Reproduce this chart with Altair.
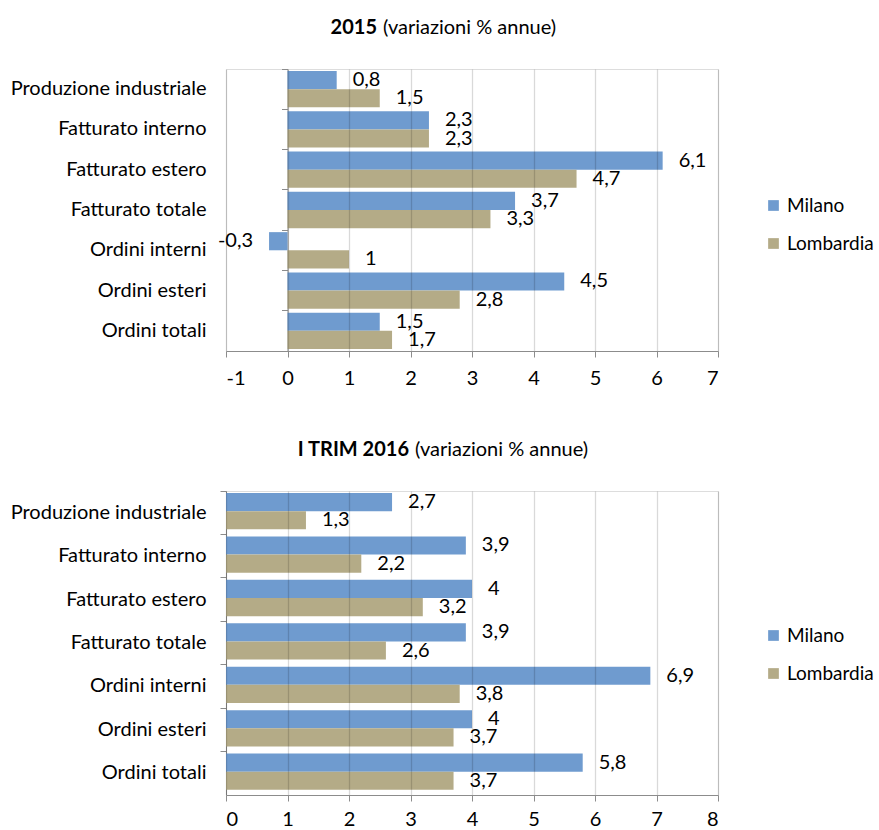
import altair as alt
import pandas as pd

categories = ["Produzione industriale", "Fatturato interno", "Fatturato estero",
              "Fatturato totale", "Ordini interni", "Ordini esteri", "Ordini totali"]
series = ["Milano", "Lombardia"]
milano_2015 = [0.8, 2.3, 6.1, 3.7, -0.3, 4.5, 1.5]
lombardia_2015 = [1.5, 2.3, 4.7, 3.3, 1, 2.8, 1.7]
milano_2016 = [2.7, 3.9, 4, 3.9, 6.9, 4, 5.8]
lombardia_2016 = [1.3, 2.2, 3.2, 2.6, 3.8, 3.7, 3.7]
colors = ["#6F9BCF", "#B4AB87"]

FONT = "Lato"
FS = 20
AXIS_GRAY = "#8c8c8c"


def fmt(v):
    return f"{v:g}".replace(".", ",")


def make_df(m, l):
    rows = []
    for c, a, b in zip(categories, m, l):
        rows.append(dict(cat=c, serie="Milano", val=a, lab=fmt(a)))
        rows.append(dict(cat=c, serie="Lombardia", val=b, lab=fmt(b)))
    return pd.DataFrame(rows)


def panel(df, xmin, xmax, w, h, pad, title_bold, title_norm, bold_x, norm_x, tick_offset,
          legend_y, xlabpad):
    xenc = alt.X("val:Q", scale=alt.Scale(domain=[xmin, xmax], nice=False, zero=False),
                 axis=alt.Axis(values=list(range(xmin, xmax + 1)), title=None,
                               labelExpr="'' + datum.value",
                               grid=True, gridColor="#000", gridOpacity=0.15, gridWidth=1.3,
                               domainColor=AXIS_GRAY, tickColor=AXIS_GRAY, tickSize=6,
                               labelFontSize=FS, labelPadding=xlabpad, labelColor="black",
                               labelFont=FONT, zindex=1))
    ysc = alt.Scale(domain=categories, paddingInner=0, paddingOuter=0)
    yoff = alt.YOffset("serie:N", sort=series,
                       scale=alt.Scale(domain=series, paddingOuter=pad, paddingInner=0))
    color = alt.Color("serie:N", sort=series, scale=alt.Scale(domain=series, range=colors),
                      legend=alt.Legend(title=None, orient="none", legendX=w + 46, legendY=legend_y,
                                        symbolType="square", symbolSize=115, symbolStrokeWidth=0,
                                        labelFontSize=19, labelFont=FONT, labelColor="black",
                                        rowPadding=18, labelOffset=4, padding=0))
    base = alt.Chart(df)
    bars = base.mark_bar().encode(
        x=xenc,
        y=alt.Y("cat:N", sort=categories, scale=ysc,
                axis=alt.Axis(title=None, domain=False, ticks=False, labelPadding=20,
                              labelFontSize=FS, labelFont=FONT, labelColor="black", labelLimit=300)),
        yOffset=yoff,
        color=color,
    )
    yax2 = alt.Y("cat:N", sort=categories, scale=ysc,
                 axis=alt.Axis(title=None, orient="left", offset=tick_offset, labels=False,
                               domain=True, ticks=True, tickSize=6, bandPosition=0,
                               domainColor=AXIS_GRAY, tickColor=AXIS_GRAY, grid=False))
    tickaxis = base.mark_point(opacity=0).encode(x=xenc, y=yax2)
    ytxt = alt.Y("cat:N", sort=categories, scale=ysc, axis=None)
    pos = base.transform_filter("datum.val >= 0").mark_text(
        align="left", baseline="middle", dx=16, fontSize=FS, font=FONT, color="black"
    ).encode(x=xenc, y=ytxt, yOffset=yoff, text="lab:N")
    neg = base.transform_filter("datum.val < 0").mark_text(
        align="right", baseline="middle", dx=-16, fontSize=FS, font=FONT, color="black"
    ).encode(x=xenc, y=ytxt, yOffset=yoff, text="lab:N")
    tdf = pd.DataFrame({"b": [title_bold], "n": [title_norm]})
    tb = alt.Chart(tdf).mark_text(align="right", baseline="middle", fontSize=FS, font=FONT,
                                  fontWeight="bold", color="black").encode(
        x=alt.value(bold_x), y=alt.value(-41), text="b:N")
    tn = alt.Chart(tdf).mark_text(align="left", baseline="middle", fontSize=FS, font=FONT,
                                  color="black").encode(
        x=alt.value(norm_x), y=alt.value(-41), text="n:N")
    return alt.layer(bars, tickaxis, pos, neg, tb, tn).resolve_axis(y="independent").properties(
        width=w, height=h)


top = panel(make_df(milano_2015, lombardia_2015), -1, 7, 492, 282, 0.11,
            "2015", "(variazioni % annue)", 151, 157, -61.5, 127, 11)
bottom = panel(make_df(milano_2016, lombardia_2016), 0, 8, 492, 304, 0.14,
               "I TRIM 2016", "(variazioni % annue)", 183, 189, 0, 135, 8)

chart = alt.vconcat(top, bottom, spacing=50).resolve_scale(color="independent").properties(
    padding={"left": 9, "top": 17, "right": 2, "bottom": 0}
).configure_view(stroke=None).configure(font=FONT)

chart.save("out.html", embed_options={"renderer": "svg", "actions": False})
